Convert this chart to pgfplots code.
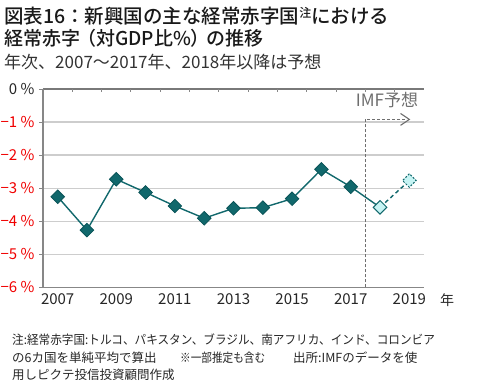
\documentclass[border=0pt]{standalone}
\usepackage{fontspec}
\setmainfont{Noto Sans CJK JP}
\newfontfamily\boldjp{Noto Sans CJK JP Medium}
\usepackage{pgfplots}
\pgfplotsset{compat=1.18}
\definecolor{tealD}{RGB}{17,104,108}
\definecolor{tealE}{RGB}{10,84,88}
\definecolor{lightC}{RGB}{198,244,244}
\definecolor{axgray}{RGB}{135,135,135}
\definecolor{gridgray}{RGB}{205,205,205}
\definecolor{dashgray}{RGB}{110,110,110}
\definecolor{labred}{RGB}{240,0,0}
\begin{document}
\begin{tikzpicture}
\path[use as bounding box] (0,0) rectangle (477pt,-383pt);
% titles
\node[anchor=base west, inner sep=0pt, text=black!90] at (4pt,-23pt) {\fontsize{19.5pt}{19.5pt}\selectfont\boldjp 図表16：新興国の主な経常赤字国\raisebox{6pt}{\fontsize{12pt}{12pt}\selectfont 注}における};
\node[anchor=base west, inner sep=0pt, text=black!90] at (4pt,-45pt) {\fontsize{19pt}{19pt}\selectfont\boldjp 経常赤字\kern-3pt（対GDP比\%）\kern-3pt の推移};
\node[anchor=base west, inner sep=0pt, text=black!80] at (4pt,-68pt) {\fontsize{17pt}{17pt}\selectfont 年次、2007～2017年、2018年以降は予想};
% footnote
\node[anchor=base west, inner sep=0pt, text=black!85] at (12pt,-344pt) {\scalebox{0.93}[1]{\fontsize{12.5pt}{12.5pt}\selectfont 注:経常赤字国:トルコ、パキスタン、ブラジル、南アフリカ、インド、コロンビア}};
\node[anchor=base west, inner sep=0pt, text=black!85] at (12pt,-362pt) {\fontsize{12.5pt}{12.5pt}\selectfont の6カ国を単純平均で算出};
\node[anchor=base west, inner sep=0pt, text=black!85] at (180pt,-362pt) {\scalebox{0.85}[1]{\fontsize{12.5pt}{12.5pt}\selectfont ※一部推定も含む}};
\node[anchor=base west, inner sep=0pt, text=black!85] at (293pt,-362pt) {\fontsize{12.5pt}{12.5pt}\selectfont 出所:IMFのデータを使};
\node[anchor=base west, inner sep=0pt, text=black!85] at (12pt,-379pt) {\fontsize{12.5pt}{12.5pt}\selectfont 用しピクテ投信投資顧問作成};
% unit label and IMF label
\node[text=black!85] at (447pt,-300pt) {\fontsize{14pt}{14pt}\selectfont 年};
\node[text=dashgray] at (387pt,-100pt) {\fontsize{17pt}{17pt}\selectfont IMF予想};
\begin{axis}[
  at={(43pt,-287.3pt)}, anchor=south west,
  scale only axis, width=381pt, height=198.3pt,
  xmin=-0.5, xmax=12.5, ymin=-6, ymax=0,
  axis line style={draw=none},
  major tick length=0pt,
  ymajorgrids, grid style={gridgray, line width=1.3pt},
  ytick={-6,-5,-4,-3,-2,-1,0},
  yticklabels={{\textcolor{labred}{−6 \%}},{\textcolor{labred}{−5 \%}},{\textcolor{labred}{−4 \%}},{\textcolor{labred}{−3 \%}},{\textcolor{labred}{−2 \%}},{\textcolor{labred}{−1 \%}},{0 \%}},
  xtick={0,2,4,6,8,10,12},
  xticklabels={2007,2009,2011,2013,2015,2017,2019},
  ticklabel style={font=\fontsize{15pt}{15pt}\selectfont, text=black!85},
  yticklabel style={anchor=east, xshift=-5pt},
  xticklabel style={anchor=north, yshift=-3pt},
  clip=false,
]
\draw[axgray, line width=0.9pt] (axis cs:-0.5,-6) -- (axis cs:12.5,-6);
\draw[axgray!90!black, line width=1.6pt] (axis cs:-0.5,0) -- (axis cs:12.5,0);
\draw[axgray, line width=1.6pt] (axis cs:-0.5,-6) -- (axis cs:-0.5,0);
\pgfplotsinvokeforeach{-6,-5,-4,-3,-2,-1,0}{
  \draw[axgray, line width=1pt] (axis cs:-0.5,#1) -- (axis cs:-0.64,#1);
}
\pgfplotsinvokeforeach{0.5,1.5,2.5,3.5,4.5,5.5,6.5,7.5,8.5,9.5,10.5,11.5}{
  \draw[axgray, line width=1pt] (axis cs:#1,0) -- (axis cs:#1,-0.1);
}
% forecast marker
\draw[dashgray, line width=1.1pt, dash pattern=on 3pt off 2pt] (axis cs:10.5,-6) -- (axis cs:10.5,-0.92) -- (axis cs:11.9,-0.92);
\draw[dashgray, line width=1.1pt] (axis cs:11.7,-0.74) -- (axis cs:12.0,-0.92) -- (axis cs:11.7,-1.10);
% data (x = year - 2007)
\addplot[tealD, line width=1.4pt] coordinates {(10,-2.96) (11,-3.58)};
\addplot[tealD, line width=1.4pt, dash pattern=on 4pt off 3pt] coordinates {(11,-3.58) (12,-2.77)};
\addplot[tealD, line width=1.4pt, mark=square*, mark size=4.8pt,
  mark options={rotate=45, fill=tealD, draw=tealE, line width=0.8pt, solid}] coordinates {
  (0,-3.26) (1,-4.27) (2,-2.73) (3,-3.13) (4,-3.54) (5,-3.91)
  (6,-3.61) (7,-3.59) (8,-3.32) (9,-2.43) (10,-2.96)};
\addplot[only marks, mark=square*, mark size=4.8pt,
  mark options={rotate=45, fill=lightC, draw=tealD, line width=1pt, solid}] coordinates {(11,-3.58)};
\addplot[only marks, mark=square*, mark size=4.8pt,
  mark options={rotate=45, fill=lightC, draw=tealD, line width=1pt, dash pattern=on 2pt off 1.5pt}] coordinates {(12,-2.77)};
\end{axis}
\end{tikzpicture}
\end{document}
